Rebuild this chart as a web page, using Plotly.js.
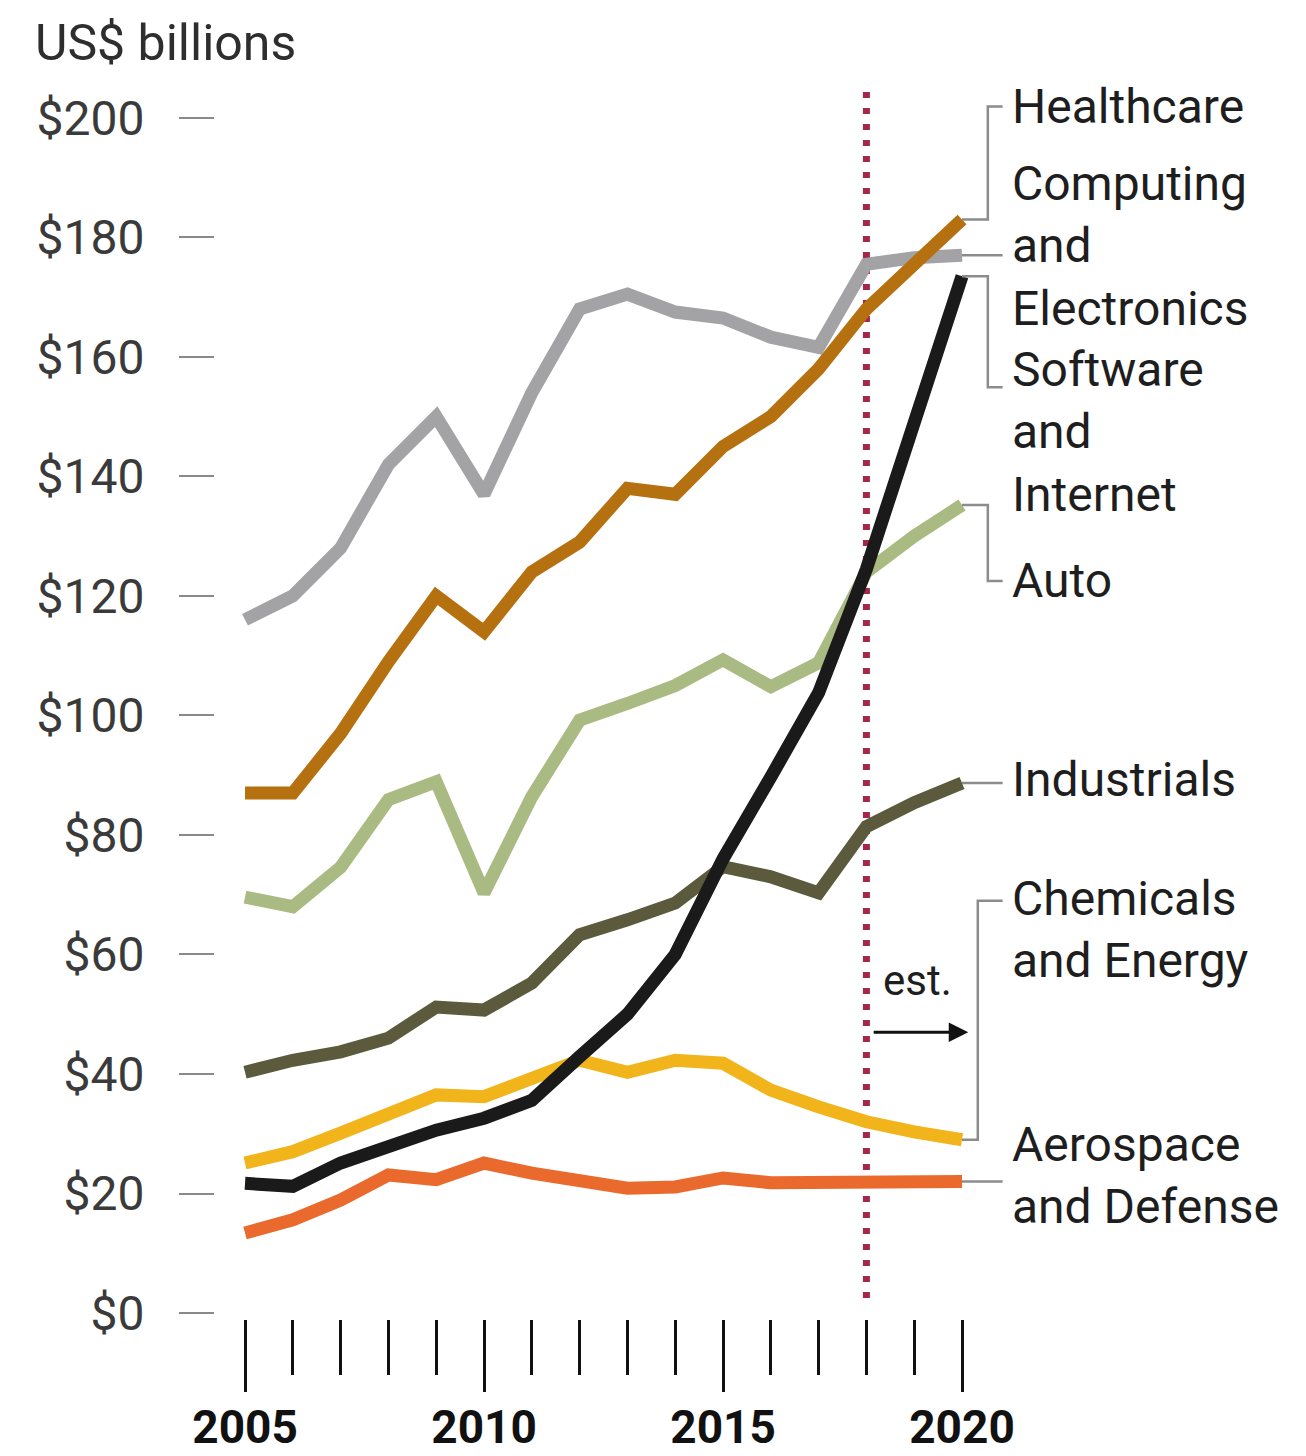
<!DOCTYPE html>
<html><head><meta charset="utf-8">
<script src="https://cdn.plot.ly/plotly-3.0.1.min.js"></script>
<style>html,body{margin:0;padding:0;background:#fff}</style>
</head><body><div id="chart" style="width:1306px;height:1456px"></div>
<script>
// ---- data (US$ billions) ----
const years = [2005,2006,2007,2008,2009,2010,2011,2012,2013,2014,2015,2016,2017,2018,2019,2020];
const healthcare  = [87, 87, 97, 109, 120, 114, 124, 129, 138, 137, 145, 150, 158, 168, 175.5, 183];
const computing   = [116, 120, 128, 142, 150, 137, 154, 168, 170.5, 167.5, 166.5, 163.3, 161.6, 175.5, 176.6, 177];
const software    = [21.7, 21.2, 25.1, 27.8, 30.6, 32.6, 35.6, 42.9, 50, 60, 76, 89.7, 103.8, 124.5, 149.5, 173.5];
const auto        = [69.6, 68, 74.6, 85.9, 88.9, 70.3, 86.4, 99.2, 102, 105, 109.3, 104.8, 108.8, 124, 130, 135.2];
const industrials = [40.3, 42.3, 43.7, 46, 51.2, 50.7, 55.2, 63.3, 65.8, 68.6, 74.7, 73, 70.3, 81.4, 85.4, 88.7];
const chemicals   = [25.1, 27, 30.1, 33.1, 36.5, 36.2, 39, 42.3, 40.3, 42.3, 41.8, 37.3, 34.5, 32, 30.3, 29];
const aerospace   = [13.4, 15.6, 18.9, 23.1, 22.3, 25.1, 23.4, 21.9, 20.9, 21.1, 22.6, 21.8, 21.8, 21.8, 21.9, 22];

const yTickVals = [0,20,40,60,80,100,120,140,160,180,200];
const yTickText = ['$0','$20','$40','$60','$80','$100','$120','$140','$160','$180','$200'];
const xMajorVals = [2005,2010,2015,2020];
const xMajorText = ['2005','2010','2015','2020'];
const estYear = 2018;

// ---- styling ----
const FONT = 'Roboto, "DejaVu Sans", sans-serif';
const LW = 13;
const last = a => a[a.length-1];
const lastYear = last(years);

function tr(y, color){
  return {x: years, y: y, type:'scatter', mode:'lines',
    line:{color:color, width:LW}, hoverinfo:'skip', showlegend:false};
}
const traces = [
  tr(computing,   '#a3a3a5'),
  tr(healthcare,  '#b5700f'),
  tr(auto,        '#a9bb82'),
  tr(industrials, '#5c5a3c'),
  tr(chemicals,   '#f1b41b'),
  tr(aerospace,   '#ea6a2e'),
  tr(software,    '#1b1a1a')
];

// connector geometry (in axis units beyond last year)
const xBr = lastYear + 0.54, xBr2 = lastYear + 0.33, xEnd = lastYear + 0.85, xLab = lastYear + 1.0;
const CC = '#8c8c8c', CW = 2.5;
function pathShape(pts){
  return {type:'path', xref:'x', yref:'y', layer:'above',
    path: pts.map((p,i)=>(i?'L':'M')+p[0]+','+p[1]).join(' '),
    line:{color:CC, width:CW}};
}
// label anchor levels (value-axis units)
const labY = {hc:201.9, comp:178.6, sw:147.4, swTop:154.9, auto:122.5,
  ind:89.2, chem:64.2, chemTop:69.0, aero:23.0};

const shapes = [
  {type:'line', xref:'x', yref:'y', x0:estYear, x1:estYear, y0:2.5, y1:206, layer:'below',
   line:{color:'#a3264b', width:7, dash:'6px,10px'}},
  pathShape([[lastYear,last(healthcare)],[xBr,last(healthcare)],[xBr,labY.hc],[xEnd,labY.hc]]),
  pathShape([[lastYear,last(computing)],[xEnd,last(computing)]]),
  pathShape([[lastYear,last(software)],[xBr,last(software)],[xBr,labY.swTop],[xEnd,labY.swTop]]),
  pathShape([[lastYear,last(auto)],[xBr,last(auto)],[xBr,labY.auto],[xEnd,labY.auto]]),
  pathShape([[lastYear,last(industrials)],[xEnd,last(industrials)]]),
  pathShape([[lastYear,last(chemicals)],[xBr2,last(chemicals)],[xBr2,labY.chemTop],[xEnd,labY.chemTop]]),
  pathShape([[lastYear,last(aerospace)],[xEnd,last(aerospace)]])
];

function lab(text, y){
  return {xref:'x', yref:'y', x:xLab, y:y, text:text, showarrow:false,
    xanchor:'left', yanchor:'middle', align:'left', font:{family:FONT, size:48, color:'#1e1e1e'}};
}
const annotations = [
  lab('Healthcare', labY.hc),
  lab('Computing<br>and<br>Electronics', labY.comp),
  lab('Software<br>and<br>Internet', labY.sw),
  lab('Auto', labY.auto),
  lab('Industrials', labY.ind),
  lab('Chemicals<br>and Energy', labY.chem),
  lab('Aerospace<br>and Defense', labY.aero),
  {xref:'x', yref:'y', x:estYear+1.06, y:55.7, text:'est.', showarrow:false,
   xanchor:'center', yanchor:'middle', font:{family:FONT, size:42, color:'#1e1e1e'}},
  {xref:'x', yref:'y', x:estYear+2.13, y:47, axref:'x', ayref:'y', ax:estYear+0.12, ay:47,
   text:'', showarrow:true, arrowhead:2, arrowsize:1.3, arrowwidth:3, arrowcolor:'#111'}
];

const layout = {
  width:1306, height:1456,
  margin:{l:215, r:272, t:76, b:137},
  paper_bgcolor:'#fff', plot_bgcolor:'#fff',
  title:{text:'US$ billions', x:35/1306, xanchor:'left', xref:'container',
    y:1-42/1456, yanchor:'middle', yref:'container',
    font:{family:FONT, size:50, color:'#2e2e2e'}},
  xaxis:{range:[2004.372, 2021.506], showgrid:false, zeroline:false, showline:false,
    tickmode:'array', tickvals:xMajorVals, ticktext:xMajorText,
    ticks:'outside', ticklen:72, tickwidth:3, tickcolor:'#111',
    ticklabelstandoff:-4,
    tickfont:{family:FONT, size:46, color:'#111', weight:'bold'},
    minor:{tickmode:'array', tickvals:years, ticks:'outside', ticklen:55, tickwidth:3, tickcolor:'#111', showgrid:false},
    fixedrange:true},
  yaxis:{range:[-1.0, 207.0], showgrid:false, zeroline:false, showline:false,
    tickmode:'array', tickvals:yTickVals, ticktext:yTickText,
    ticks:'outside', ticklen:35, tickwidth:2, tickcolor:'#8a8a8a',
    ticklabelstandoff:25,
    tickfont:{family:FONT, size:48, color:'#3a3a3a'}, fixedrange:true},
  shapes:shapes,
  annotations:annotations,
  showlegend:false
};

Plotly.newPlot('chart', traces, layout, {displayModeBar:false, staticPlot:true});
</script></body></html>
